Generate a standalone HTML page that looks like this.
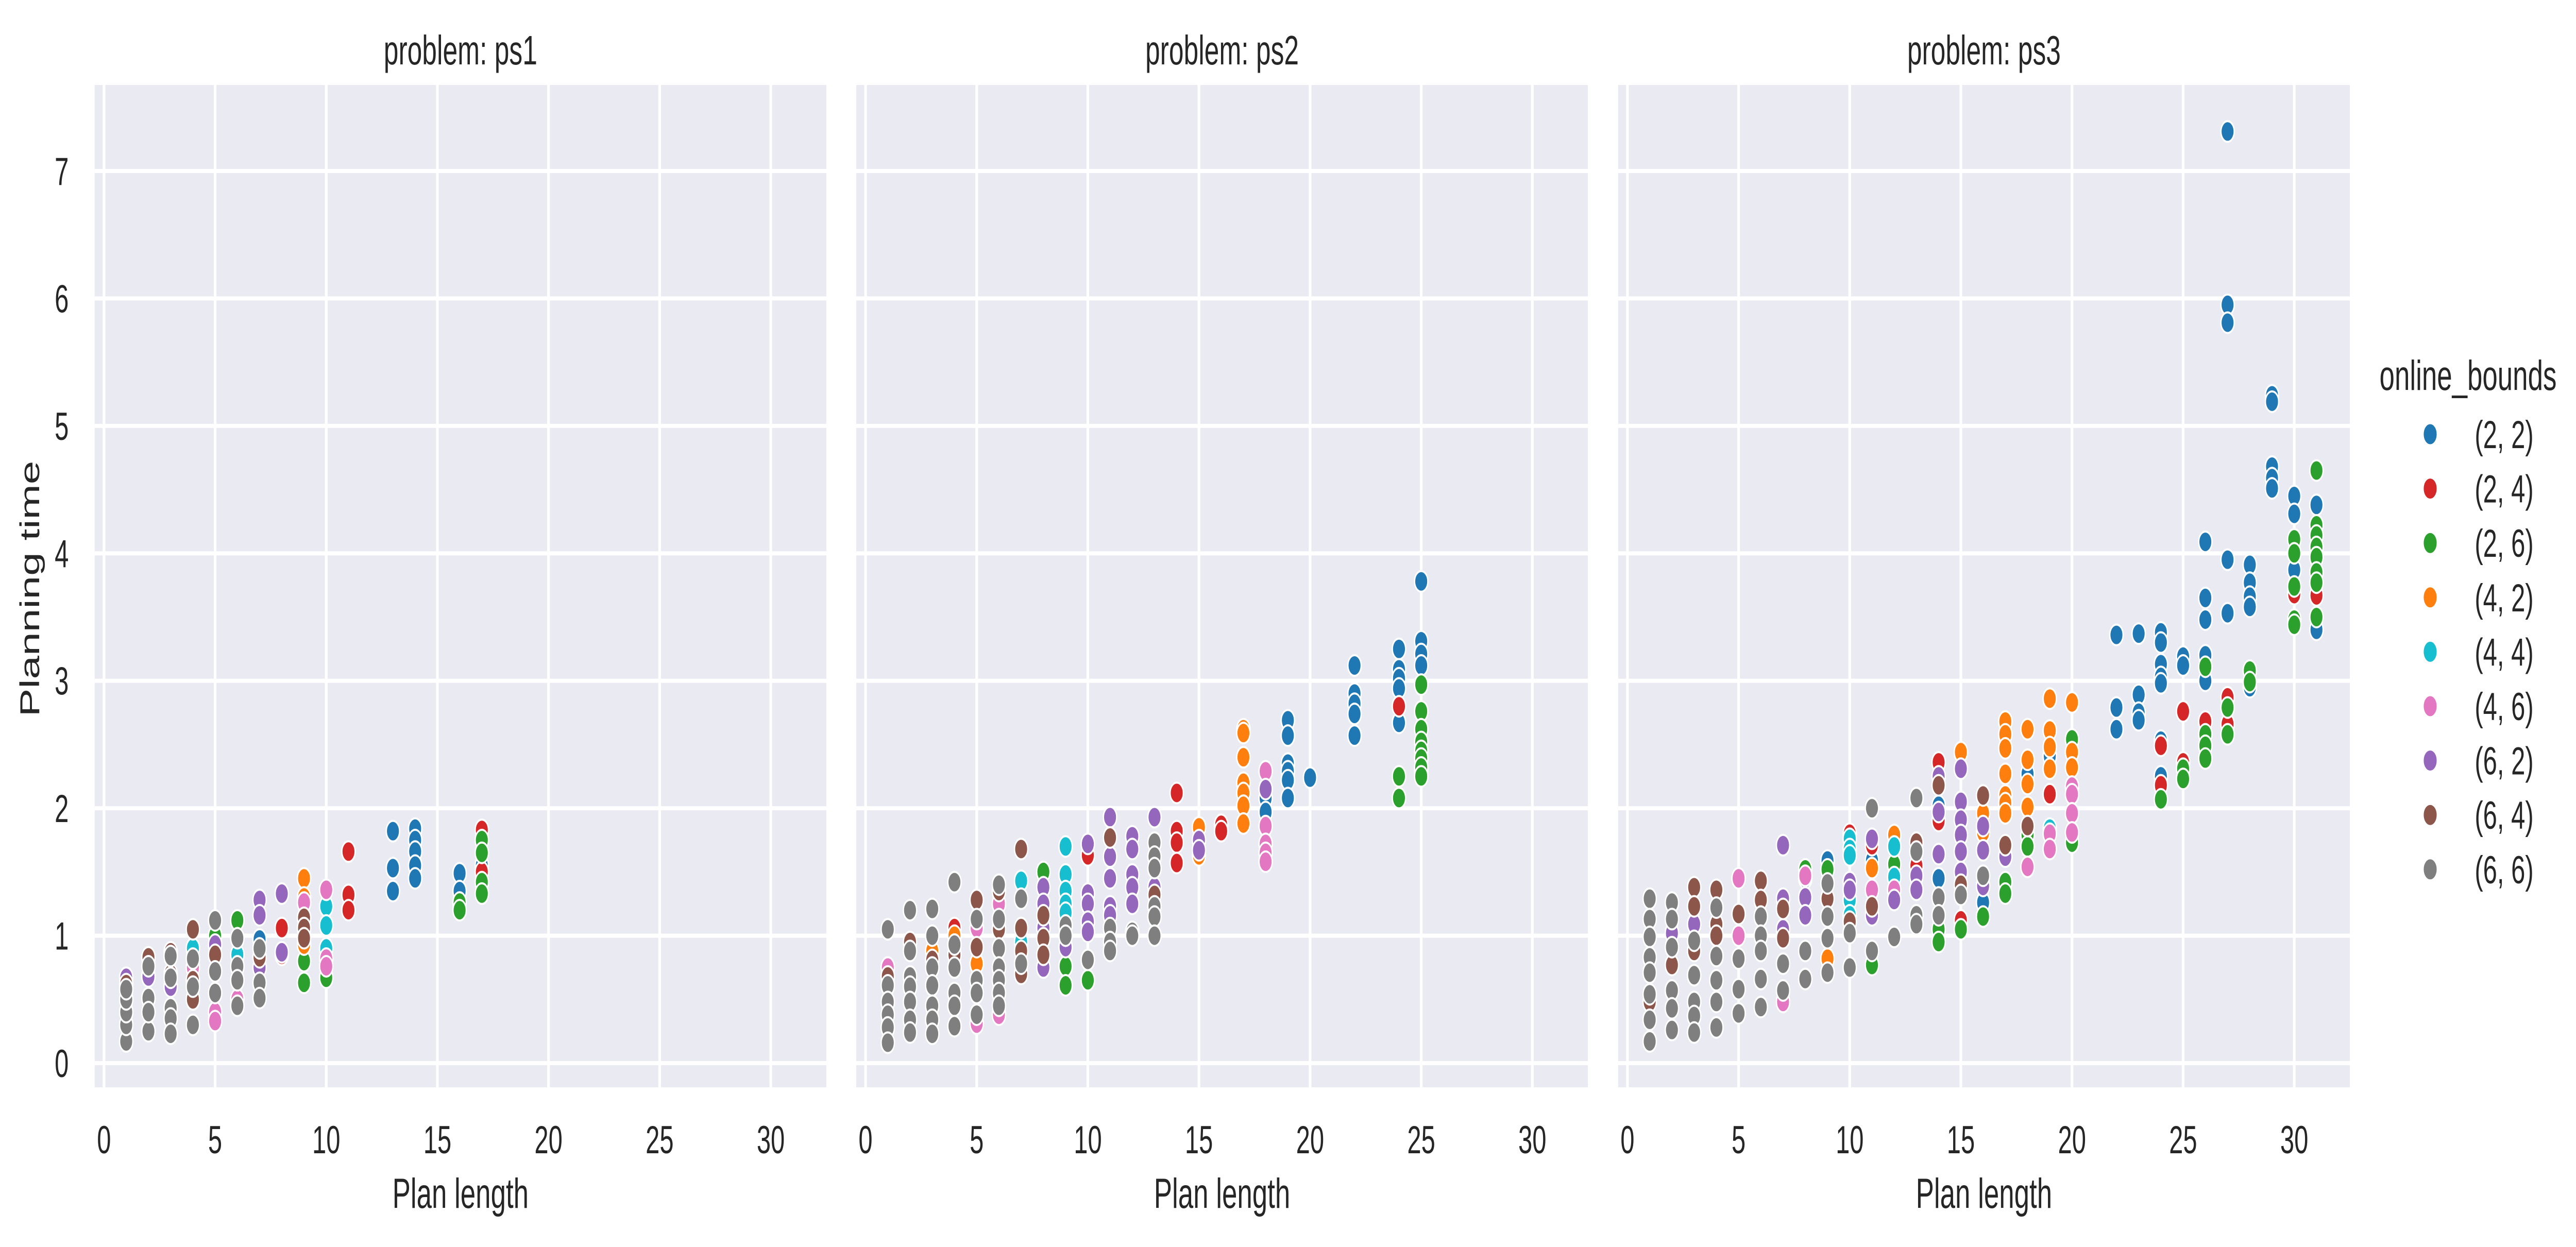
<!DOCTYPE html>
<html><head><meta charset="utf-8"><style>
html,body{margin:0;padding:0;background:#fff;width:100%;height:100%;overflow:hidden}
#chart{position:absolute;left:0;top:0;width:100vw;height:100vh;display:block}
svg text{font-family:"Liberation Sans",Arial,sans-serif;fill:#262626}
</style></head><body>
<svg id="chart" xmlns="http://www.w3.org/2000/svg" viewBox="0 0 7756 2421" preserveAspectRatio="none"></svg>
<script>
// ---- data ----
const problems = ["ps1", "ps2", "ps3"];
const seriesNames = ["(2, 2)", "(2, 4)", "(2, 6)", "(4, 2)", "(4, 4)", "(4, 6)", "(6, 2)", "(6, 4)", "(6, 6)"];
const seriesColors = ["#1f77b4", "#d62728", "#2ca02c", "#ff7f0e", "#17becf", "#e377c2", "#9467bd", "#8c564b", "#7f7f7f"];
const xTicks = [0, 5, 10, 15, 20, 25, 30];
const yTicks = [0, 1, 2, 3, 4, 5, 6, 7];

const ps1_22 = [[7,.97],[13,1.82],[13,1.53],[13,1.35],[14,1.84],[14,1.75],[14,1.66],[14,1.55],[14,1.45],[16,1.49],[16,1.35],[17,1.55]];
const ps1_24 = [[8,1.06],[8,.85],[11,1.66],[11,1.32],[11,1.2],[17,1.83],[17,1.5]];
const ps1_26 = [[5,1.0],[6,1.12],[9,.63],[9,.8],[10,.67],[16,1.26],[16,1.2],[17,1.75],[17,1.65],[17,1.42],[17,1.33]];
const ps1_42 = [[9,1.45],[9,1.3],[9,.93]];
const ps1_44 = [[4,.9],[6,.85],[10,1.23],[10,1.08],[10,.9]];
const ps1_46 = [[4,.75],[5,.4],[5,.33],[6,.5],[9,1.26],[10,1.36],[10,.82],[10,.76]];
const ps1_62 = [[1,.67],[2,.68],[3,.6],[5,.93],[7,1.28],[7,1.16],[7,.75],[8,1.33],[8,.87]];
const ps1_64 = [[1,.62],[2,.83],[3,.87],[3,.7],[4,1.05],[4,.65],[4,.5],[5,.85],[7,.83],[9,1.14],[9,1.06],[9,.98]];
const ps1_66 = [[1,.17],[1,.3],[1,.4],[1,.5],[1,.58],[2,.76],[2,.51],[2,.25],[2,.4],[3,.84],[3,.67],[3,.43],[3,.35],[3,.23],[4,.82],[4,.6],[4,.3],[5,1.12],[5,.72],[5,.55],[6,.98],[6,.76],[6,.65],[6,.45],[7,.9],[7,.63],[7,.51]];

const ps2_22 = [[18,2.08],[18,1.97],[19,2.69],[19,2.57],[19,2.35],[19,2.29],[19,2.22],[19,2.08],[20,2.24],[22,3.12],[22,2.9],[22,2.82],[22,2.74],[22,2.57],[24,3.25],[24,3.09],[24,3.02],[24,2.94],[24,2.67],[25,3.78],[25,3.31],[25,3.21],[25,3.12]];
const ps2_24 = [[4,1.06],[10,1.63],[14,2.12],[14,1.82],[14,1.73],[14,1.57],[16,1.87],[16,1.82],[24,2.8],[25,2.29]];
const ps2_26 = [[8,1.5],[9,.76],[9,.61],[10,.65],[24,2.25],[24,2.08],[25,2.97],[25,2.76],[25,2.62],[25,2.52],[25,2.45],[25,2.39],[25,2.32],[25,2.25]];
const ps2_42 = [[3,.88],[4,1.0],[5,.78],[15,1.85],[15,1.63],[17,2.62],[17,2.59],[17,2.4],[17,2.2],[17,2.12],[17,2.02],[17,1.88]];
const ps2_44 = [[7,1.43],[7,.95],[9,1.7],[9,1.48],[9,1.35],[9,1.25],[9,1.18]];
const ps2_46 = [[1,.75],[5,1.06],[5,.31],[6,1.25],[6,.38],[18,2.29],[18,1.86],[18,1.72],[18,1.65],[18,1.58]];
const ps2_62 = [[8,1.38],[8,1.25],[8,1.06],[8,.75],[9,.91],[10,1.72],[10,1.33],[10,1.25],[10,1.11],[10,1.03],[11,1.93],[11,1.62],[11,1.45],[11,1.23],[11,1.16],[12,1.78],[12,1.68],[12,1.48],[12,1.38],[12,1.25],[13,1.93],[13,1.38],[15,1.75],[15,1.67],[18,2.15]];
const ps2_64 = [[1,.68],[2,.95],[3,.81],[4,.85],[5,1.28],[5,.91],[6,1.35],[6,1.05],[7,1.68],[7,1.06],[7,.88],[7,.7],[8,1.16],[8,.98],[8,.85],[11,1.77],[13,1.32]];
const ps2_66 = [[1,1.05],[1,.61],[1,.48],[1,.38],[1,.28],[1,.16],[2,1.2],[2,.88],[2,.68],[2,.6],[2,.48],[2,.34],[2,.24],[3,1.21],[3,1.0],[3,.75],[3,.61],[3,.45],[3,.34],[3,.23],[4,1.42],[4,.93],[4,.75],[4,.55],[4,.45],[4,.29],[5,1.13],[5,.65],[5,.55],[5,.38],[6,1.4],[6,1.13],[6,.9],[6,.75],[6,.65],[6,.55],[6,.45],[7,1.29],[7,.78],[9,1.08],[9,1.0],[10,.81],[11,1.06],[11,.95],[11,.88],[12,1.03],[12,1.0],[13,1.73],[13,1.62],[13,1.53],[13,1.23],[13,1.15],[13,1.0]];

const ps3_22 = [[8,1.45],[9,1.59],[11,1.59],[14,2.02],[14,1.45],[16,1.26],[18,2.27],[19,2.41],[22,3.36],[22,2.79],[22,2.62],[23,3.37],[23,2.89],[23,2.75],[23,2.69],[24,3.38],[24,3.3],[24,3.13],[24,3.03],[24,2.98],[24,2.53],[24,2.25],[25,3.19],[25,3.12],[26,4.09],[26,3.65],[26,3.48],[26,3.2],[26,3.0],[27,7.31],[27,5.95],[27,5.81],[27,3.95],[27,3.53],[28,3.91],[28,3.77],[28,3.66],[28,3.58],[28,2.95],[29,5.24],[29,5.19],[29,4.68],[29,4.59],[29,4.51],[30,4.45],[30,4.31],[30,3.87],[31,4.38],[31,3.4]];
const ps3_24 = [[10,1.8],[11,1.71],[13,1.55],[14,2.36],[14,1.9],[15,1.12],[19,2.11],[24,2.49],[24,2.18],[25,2.76],[25,2.36],[26,2.68],[27,2.87],[27,2.66],[30,3.68],[31,3.67]];
const ps3_26 = [[8,1.52],[9,1.52],[11,.77],[12,1.56],[14,1.05],[14,.95],[15,1.05],[16,1.15],[17,1.42],[17,1.33],[18,1.79],[18,1.7],[20,2.54],[20,1.73],[24,2.07],[25,2.31],[25,2.23],[26,3.11],[26,2.58],[26,2.49],[26,2.39],[27,2.79],[27,2.58],[28,3.08],[28,2.99],[30,4.11],[30,4.0],[30,3.74],[30,3.48],[30,3.44],[31,4.65],[31,4.22],[31,4.14],[31,4.05],[31,3.97],[31,3.85],[31,3.77],[31,3.5]];
const ps3_42 = [[9,.82],[11,1.53],[12,1.79],[15,2.44],[16,1.96],[16,1.81],[17,2.68],[17,2.58],[17,2.47],[17,2.27],[17,2.1],[17,2.04],[17,1.96],[18,2.62],[18,2.38],[18,2.19],[18,2.01],[19,2.86],[19,2.61],[19,2.48],[19,2.31],[20,2.83],[20,2.44],[20,2.32]];
const ps3_44 = [[10,1.76],[10,1.68],[10,1.63],[10,1.28],[10,1.16],[12,1.7],[12,1.46],[19,1.84]];
const ps3_46 = [[5,1.45],[5,1.0],[7,.48],[8,1.47],[11,1.36],[12,1.36],[18,1.54],[19,1.8],[19,1.68],[20,2.17],[20,2.11],[20,1.96],[20,1.81]];
const ps3_62 = [[2,1.02],[3,1.09],[7,1.71],[7,1.29],[7,1.05],[8,1.3],[8,1.16],[10,1.42],[10,1.36],[11,1.76],[11,1.16],[12,1.28],[13,1.47],[13,1.36],[14,2.25],[14,1.97],[14,1.64],[15,2.31],[15,2.05],[15,1.91],[15,1.79],[15,1.66],[15,1.5],[16,1.86],[16,1.67],[16,1.39],[17,1.62]];
const ps3_64 = [[1,.48],[2,.77],[3,1.38],[3,1.23],[3,.88],[4,1.36],[4,1.09],[4,1.0],[5,1.17],[6,1.43],[6,1.28],[7,1.21],[7,.98],[9,1.29],[10,1.11],[11,1.23],[13,1.73],[14,2.18],[15,1.4],[16,2.1],[17,1.71],[18,1.86]];
const ps3_66 = [[1,1.29],[1,1.13],[1,.99],[1,.83],[1,.71],[1,.54],[1,.34],[1,.17],[2,1.26],[2,1.13],[2,.91],[2,.57],[2,.43],[2,.26],[3,.96],[3,.69],[3,.48],[3,.37],[3,.24],[4,1.22],[4,.84],[4,.65],[4,.48],[4,.28],[5,.82],[5,.58],[5,.39],[6,1.15],[6,1.0],[6,.88],[6,.66],[6,.44],[7,.78],[7,.57],[8,.88],[8,.66],[9,1.41],[9,1.15],[9,.98],[9,.71],[10,1.02],[10,.75],[11,2.0],[11,.88],[12,.99],[13,2.08],[13,1.66],[13,1.16],[13,1.09],[14,1.3],[14,1.16],[15,1.32],[16,1.47]];

const panelData = [
  [ps1_22, ps1_24, ps1_26, ps1_42, ps1_44, ps1_46, ps1_62, ps1_64, ps1_66],
  [ps2_22, ps2_24, ps2_26, ps2_42, ps2_44, ps2_46, ps2_62, ps2_64, ps2_66],
  [ps3_22, ps3_24, ps3_26, ps3_42, ps3_44, ps3_46, ps3_62, ps3_64, ps3_66]
];

// ---- layout ----
const NS = "http://www.w3.org/2000/svg";
const svg = document.getElementById("chart");
const panelLeft = [285, 2578, 4872];
const panelW = 2203, panelTop = 165, panelBottom = 2111;
const xMin = -0.42, xMax = 32.5, yMin = -0.19, yMax = 7.675;
function mk(tag, attrs, parent) {
  const e = document.createElementNS(NS, tag);
  for (const k in attrs) e.setAttribute(k, attrs[k]);
  (parent || svg).appendChild(e);
  return e;
}
function xScale(p, v) { return panelLeft[p] + (v - xMin) / (xMax - xMin) * panelW; }
function yScale(v) { return panelBottom - (v - yMin) / (yMax - yMin) * (panelBottom - panelTop); }

problems.forEach((prob, p) => {
  const g = mk("g", {});
  
  
  const bg = mk("rect", {x: panelLeft[p], y: panelTop, width: panelW, height: panelBottom - panelTop, fill: "#eaeaf2"}, g);
  
  
  xTicks.forEach(t => {
    const x = xScale(p, t);
    const l = mk("line", {x1: x, x2: x, y1: panelTop, y2: panelBottom, stroke: "#fff", "stroke-width": 8}, g);
    
    
    const tx = mk("text", {x: x, y: 2239, "font-size": 76, "text-anchor": "middle"}, g);
    
    
    tx.textContent = t;
  });
  yTicks.forEach(t => {
    const y = yScale(t);
    const l = mk("line", {x1: panelLeft[p], x2: panelLeft[p] + panelW, y1: y, y2: y, stroke: "#fff", "stroke-width": 8}, g);
    
    
    if (p === 0) {
      const tx = mk("text", {x: 207, y: y + 27, "font-size": 76, "text-anchor": "end"}, g);
      
      
      tx.textContent = t;
    }
  });
  const title = mk("text", {x: panelLeft[p] + panelW / 2, y: 125, "font-size": 80, "text-anchor": "middle"}, g);
  
  
  title.textContent = "problem: " + prob;
  const xl = mk("text", {x: panelLeft[p] + panelW / 2, y: 2345, "font-size": 82, "text-anchor": "middle"}, g);
  
  
  xl.textContent = "Plan length";
  panelData[p].forEach((pts, s) => {
    pts.forEach(pt => {
      const c = mk("circle", {cx: xScale(p, pt[0]), cy: yScale(pt[1]), r: 20, fill: seriesColors[s], stroke: "#fff", "stroke-width": 4}, g);
      
      
    });
  });
});

const yl = mk("text", {x: 0, y: 0, "font-size": 82, "text-anchor": "middle", transform: "translate(118,1143) rotate(-90)"});


yl.textContent = "Planning time";

const lg = mk("g", {});


const lt = mk("text", {x: 7431, y: 757, "font-size": 82, "text-anchor": "middle"}, lg);


lt.textContent = "online_bounds";
seriesNames.forEach((n, i) => {
  const y = 843 + i * 105.6;
  const c = mk("circle", {cx: 7317, cy: y, r: 21, fill: seriesColors[i], stroke: "#fff", "stroke-width": 3}, lg);
  
  
  const t = mk("text", {x: 7451, y: y + 27, "font-size": 76}, lg);
  
  
  t.textContent = n;
});
</script>
</body></html>
